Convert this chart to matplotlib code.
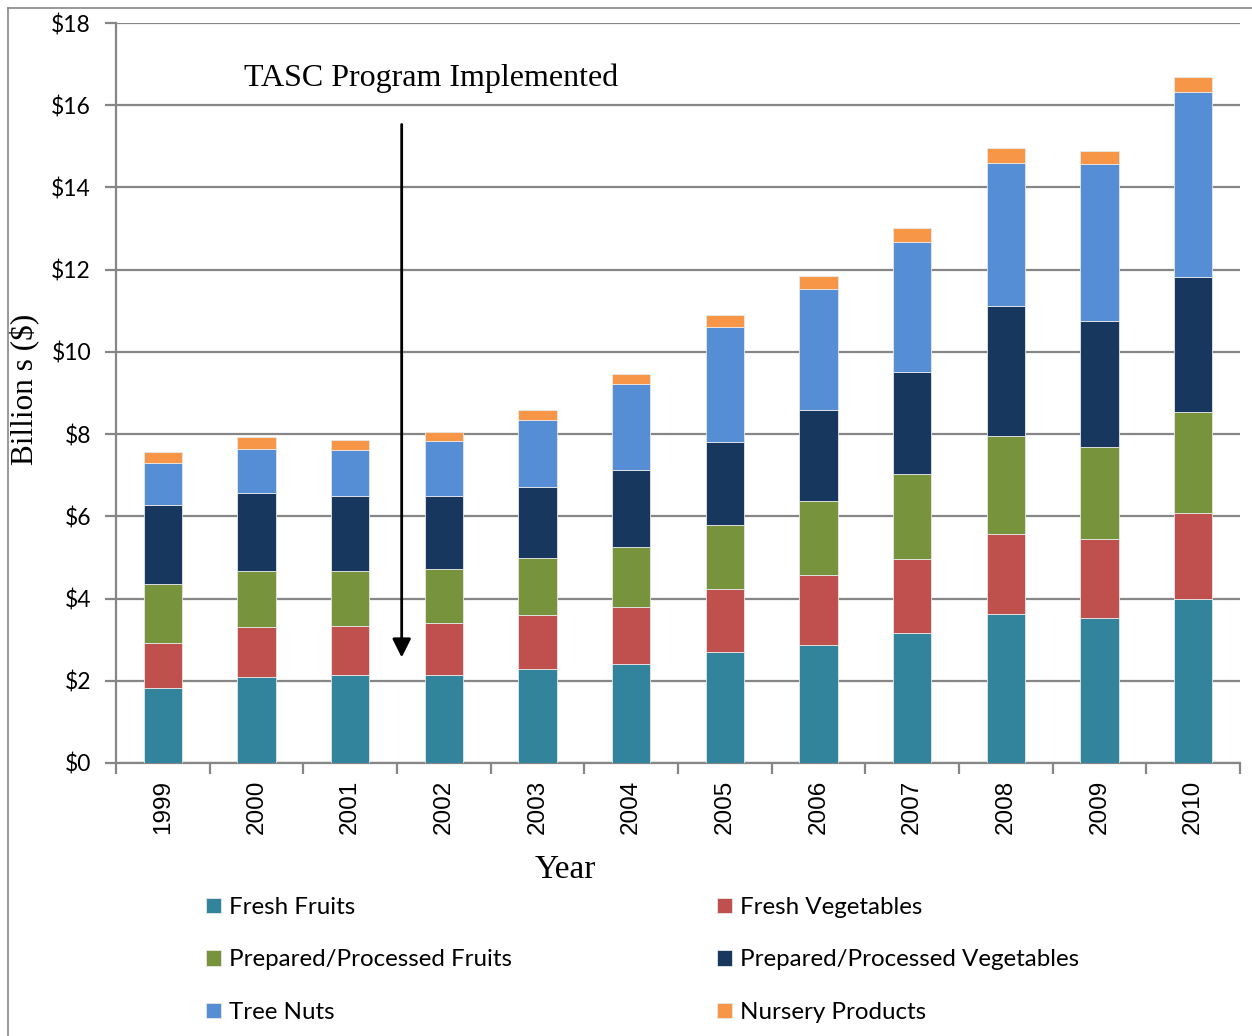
import matplotlib.pyplot as plt
from matplotlib.lines import Line2D
import numpy as np

years = ['1999', '2000', '2001', '2002', '2003', '2004', '2005', '2006',
         '2007', '2008', '2009', '2010']

# billions of dollars per category (stacked bottom -> top)
fresh_fruits = [1.82, 2.09, 2.14, 2.14, 2.29, 2.41, 2.70, 2.87, 3.16, 3.62, 3.53, 3.99]
fresh_veg = [1.10, 1.22, 1.19, 1.27, 1.31, 1.38, 1.53, 1.70, 1.80, 1.95, 1.92, 2.09]
proc_fruits = [1.43, 1.36, 1.34, 1.31, 1.39, 1.46, 1.56, 1.80, 2.07, 2.38, 2.24, 2.46]
proc_veg = [1.93, 1.90, 1.82, 1.77, 1.72, 1.88, 2.02, 2.22, 2.48, 3.17, 3.06, 3.28]
tree_nuts = [1.02, 1.07, 1.12, 1.34, 1.63, 2.09, 2.80, 2.94, 3.16, 3.47, 3.82, 4.50]
nursery = [0.26, 0.29, 0.25, 0.22, 0.25, 0.24, 0.29, 0.32, 0.34, 0.37, 0.32, 0.37]

series = [
    ('Fresh Fruits', fresh_fruits, '#31849B'),
    ('Fresh Vegetables', fresh_veg, '#C0504D'),
    ('Prepared/Processed Fruits', proc_fruits, '#77933C'),
    ('Prepared/Processed Vegetables', proc_veg, '#17375E'),
    ('Tree Nuts', tree_nuts, '#558ED5'),
    ('Nursery Products', nursery, '#F79646'),
]

sans = ['Lato', 'DejaVu Sans']
serif = ['Liberation Serif', 'DejaVu Serif']
grey = '#868686'

fig = plt.figure(figsize=(12.52, 10.36), dpi=100)
ax = fig.add_axes([116 / 1252, 1 - 763 / 1036, 1124 / 1252, 740 / 1036])

x = np.arange(len(years))
bottom = np.zeros(len(years))
handles = {}
for name, vals, col in series:
    b = ax.bar(x, vals, 0.41, bottom=bottom, color=col, edgecolor='#e8e8e8',
               linewidth=0.6, label=name, zorder=3)
    handles[name] = b
    bottom += np.array(vals)

ax.set_xlim(-0.5, len(years) - 0.5)
ax.set_ylim(0, 18)
ax.set_yticks(np.arange(0, 19, 2))
ax.set_yticklabels(['$%d' % v for v in range(0, 19, 2)], family=sans, fontsize=16.5)
ax.yaxis.grid(True, color=grey, linewidth=1.6, zorder=0)

ax.set_xticks(np.arange(-0.5, len(years), 1.0))
ax.set_xticklabels([])
ax.set_xticks(x, minor=True)
ax.set_xticklabels(years, minor=True, rotation=90, family=['Liberation Sans'], fontsize=17.5)
ax.tick_params(axis='x', which='minor', length=0, pad=12)
ax.tick_params(axis='x', which='major', length=8, color=grey, width=1.6)
ax.tick_params(axis='y', length=8, color=grey, width=1.6, pad=10)

for s in ['top', 'right']:
    ax.spines[s].set_visible(False)
for s in ['left', 'bottom']:
    ax.spines[s].set_color(grey)
    ax.spines[s].set_linewidth(1.6)

ax.set_xlabel('Year', family=serif, fontsize=24)
ax.xaxis.set_label_coords((565 - 116) / 1124, -(855 - 763) / 740)
ax.set_ylabel('Billion s ($)', family=serif, fontsize=22.5)
ax.yaxis.set_label_coords(-(116 - 40) / 1124, 0.505)

ax.text(0.87, 16.66, 'TASC Program Implemented', family=serif, fontsize=23,
        va='center', ha='left')
ax.annotate('', xy=(2.55, 2.5), xytext=(2.55, 15.6),
            arrowprops=dict(arrowstyle='-|>', color='black', lw=2,
                            mutation_scale=28))

order = ['Fresh Fruits', 'Prepared/Processed Fruits', 'Tree Nuts',
         'Fresh Vegetables', 'Prepared/Processed Vegetables', 'Nursery Products']
fig.legend([handles[n] for n in order], order, loc='upper left',
           bbox_to_anchor=(206 / 1252, 1 - 897 / 1036), borderpad=0, borderaxespad=0,
           ncol=2, frameon=False,
           prop={'family': sans, 'size': 17.4}, handlelength=0.6, handleheight=0.6,
           handletextpad=0.35, labelspacing=1.3, columnspacing=8.5)

# outer chart border
fig.add_artist(Line2D([8 / 1252, 8 / 1252], [0, 1 - 8 / 1036], color=grey, lw=1.2))
fig.add_artist(Line2D([8 / 1252, 1], [1 - 8 / 1036, 1 - 8 / 1036], color=grey, lw=1.2))

fig.savefig('out.png', dpi=100)
